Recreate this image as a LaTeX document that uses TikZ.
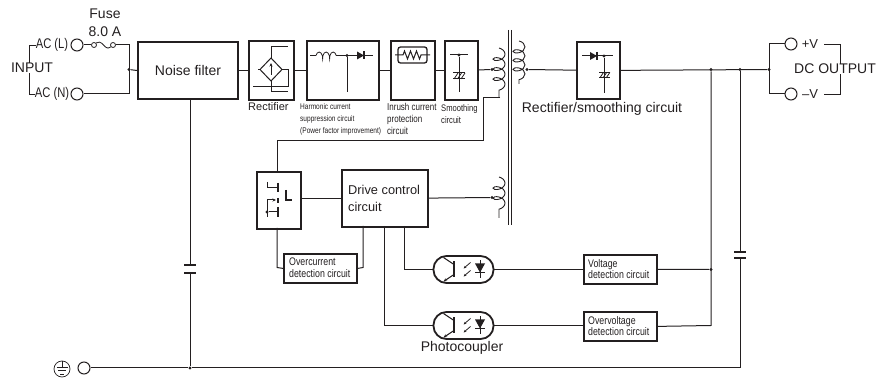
\documentclass[tikz,border=0pt]{standalone}
\usepackage{fontspec}
\setmainfont{Liberation Sans}
\newfontfamily\narrowfont[FakeStretch=0.8]{Liberation Sans}
\usetikzlibrary{arrows.meta, calc, decorations.pathmorphing}
\definecolor{ink}{RGB}{35, 31, 32}
\tikzset{
  wire/.style={draw=ink, line width=1pt},
  thin wire/.style={draw=ink, line width=0.8pt},
  plate/.style={draw=ink, line width=1.7pt},
  blockbox/.style={draw=ink, line width=2pt, inner sep=0pt, anchor=north west},
  smallbox/.style={draw=ink, line width=1.8pt, inner sep=0pt, anchor=north west, minimum width=73pt, minimum height=29pt},
  term/.style={circle, draw=ink, line width=1pt, minimum size=12pt, inner sep=0pt},
  fusend/.style={circle, draw=ink, line width=0.8pt, minimum size=5pt, inner sep=0pt},
  jdot/.style={circle, fill=ink, minimum size=3.4pt, inner sep=0pt},
  lbl/.style={inner sep=0pt, text=ink, font=\fontsize{14}{17}\selectfont},
  narrowlbl/.style={inner sep=0pt, text=ink, anchor=west, align=left, font=\narrowfont\fontsize{11}{11.5}\selectfont},
  tinylbl/.style={inner sep=0pt, text=ink, anchor=west, align=left, font=\narrowfont\fontsize{8.2}{12}\selectfont},
  coilwire/.style={draw=ink, line width=0.9pt, decorate, decoration={coil, aspect=0.6, segment length=#1, amplitude=6pt}},
  diodemark/.pic={
    \fill[ink] (-7,-4) -- (-7,4) -- (0,0) -- cycle;
    \draw[plate] (0,-4) -- (0,4);
  },
  hatchcap/.pic={
    \draw[wire] (-6,-3) -- (6,-3) (-6,3) -- (6,3);
    \draw[thin wire] (-5,3) -- (-1,-3) (-1.5,3) -- (2.5,-3) (2,3) -- (6,-3);
  }
}
\begin{document}
\begin{tikzpicture}[x=1pt, y=-1pt]
  \useasboundingbox (0,0) rectangle (876,379);

  % blocks on the top row
  \node[blockbox, minimum width=100pt, minimum height=57pt] (noise) at (137,41) {};
  \node[lbl] at (noise.center) {Noise filter};
  \node[blockbox, minimum width=45pt, minimum height=59pt] (rectif) at (248,40) {};
  \node[blockbox, minimum width=72pt, minimum height=59pt] (harm) at (306,40) {};
  \node[blockbox, minimum width=44pt, minimum height=59pt] (inrush) at (390,40) {};
  \node[blockbox, minimum width=33pt, minimum height=59pt] (smooth) at (444,40) {};
  \node[blockbox, minimum width=43pt, minimum height=57pt] (rsmooth) at (576,41) {};

  % lower blocks
  \node[blockbox, minimum width=44pt, minimum height=57pt] (switch) at (256,171) {};
  \node[blockbox, minimum width=86pt, minimum height=57pt] (drive) at (341,169) {};
  \node[lbl, anchor=west, align=left, font=\fontsize{12.8}{17}\selectfont] at (348,198.5) {Drive control\\circuit};
  \node[smallbox] (overcur) at (283,253) {};
  \node[narrowlbl] at (289,267.5) {Overcurrent\\detection circuit};
  \node[smallbox] (voltdet) at (583,254) {};
  \node[narrowlbl] at (588,269) {Voltage\\detection circuit};
  \node[smallbox] (overdet) at (583,311) {};
  \node[narrowlbl] at (588,326) {Overvoltage\\detection circuit};

  % photocouplers
  \foreach \nm/\cy in {pcv/269.5, pco/325.5} {
    \node[draw=ink, line width=1.8pt, rounded corners=13pt, minimum width=60pt, minimum height=27pt, inner sep=0pt] (\nm) at (463.5,\cy) {};
    \begin{scope}[shift={(463.5,\cy)}]
      \draw[plate] (-9.5,-8) -- (-9.5,8);
      \draw[wire] (-20,-12) -- (-9.5,-5);
      \draw[wire, -{Stealth[length=3.5pt,width=3pt]}] (-9.5,5) -- (-20,12);
      \draw[thin wire, {Stealth[length=3pt,width=2.5pt]}-] (0,-1) -- (7,-7);
      \draw[thin wire, {Stealth[length=3pt,width=2.5pt]}-] (0,7) -- (7,1);
      \draw[wire] (16.5,-9) -- (16.5,9);
      \fill[ink] (11.5,-6) -- (21.5,-6) -- (16.5,3) -- cycle;
      \draw[plate] (11.5,3) -- (21.5,3);
    \end{scope}
  }
  \node[lbl] at (462,348) {Photocoupler};

  % input side
  \node[term] (acl) at (77,45) {};
  \node[term] (acn) at (77,94) {};
  \node[fusend] (fusea) at (94,45) {};
  \node[fusend] (fuseb) at (113,45) {};
  \node[jdot] (injunc) at (129,69.5) {};
  \coordinate (fusecnr) at (129,45);
  \coordinate (acncnr) at (129,94);
  \draw[wire] (acl) -- (fusea);
  \draw[thin wire] (fusea) .. controls (98,41) and (101,42) .. (103.5,45) .. controls (106,48) and (108,49) .. (fuseb);
  \draw[wire] (fuseb) -- (fusecnr) -- (acncnr) -- (acn);
  \draw[wire] (injunc) -- (noise.west);
  \node[lbl] at (105,14) {Fuse};
  \node[lbl] at (105,32) {8.0 A};
  \node[lbl, font=\narrowfont\fontsize{14}{17}\selectfont] (acltxt) at (52,45) {AC (L)};
  \node[lbl, font=\narrowfont\fontsize{14}{17}\selectfont] (acntxt) at (52,94) {AC (N)};
  \node[lbl] (intxt) at (32,68) {INPUT};
  \coordinate (inbra) at (29,45);
  \coordinate (inbrb) at (29,94);
  \draw[thin wire] (acltxt.west) -- (inbra) -- (inbra |- intxt.north);
  \draw[thin wire] (inbrb |- intxt.south) -- (inbrb) -- (acntxt.west);

  % top row wiring
  \draw[wire] (noise) -- (rectif);
  \draw[wire] (rectif) -- (harm);
  \draw[wire] (harm) -- (inrush);
  \draw[wire] (inrush) -- (smooth);
  \node[jdot] (pridot) at (492,69.5) {};
  \draw[wire] (smooth) -- (pridot);

  % transformer
  \draw[coilwire=10pt] (499,48) -- (499,98);
  \draw[coilwire=9pt] (519,41) -- (519,84);
  \draw[coilwire=10pt] (499,177) -- (499,218);
  \draw[line width=1pt, draw=ink] (508,30) -- (508,225) (511,30) -- (511,225);
  \node[jdot] (secdot) at (527,69.5) {};
  \node[jdot] (auxdot) at (492,197.5) {};

  % rectifier symbol
  \draw[wire] (271,58) -- (282,69.5) -- (271,81) -- (260,69.5) -- cycle;
  \draw[thin wire, -{Stealth[length=3.5pt,width=3pt]}] (271,75) -- (271,63);
  \draw[wire] (258,69.5) -- (260,69.5);
  \draw[wire] (271,58) -- (271,47) -- (288,47);
  \draw[wire] (282,69.5) -- (288,69.5) -- (288,87) -- (253,87);
  \draw[wire] (271,81) -- (271,92) -- (288,92);
  \node[lbl, anchor=west, font=\fontsize{11}{13}\selectfont] at (248,107) {Rectifier};

  % harmonic current symbol
  \draw[wire] (310,55.5) -- (316,55.5);
  \draw[thin wire, decorate, decoration={coil, aspect=0.4, segment length=7pt, amplitude=3.5pt}] (316,55.5) -- (338,55.5);
  \draw[wire] (338,55.5) -- (373,55.5);
  \node[jdot] (harmdot) at (347,55.5) {};
  \draw[wire] (harmdot) -- (347,92);
  \pic at (364,55.5) {diodemark};
  \node[tinylbl] at (300,119) {Harmonic current\\suppression circuit\\(Power factor improvement)};

  % inrush symbol
  \node[draw=ink, line width=1.3pt, rounded corners=2.5pt, minimum width=29pt, minimum height=16pt, inner sep=0pt] (limit) at (412.5,55) {};
  \draw[wire] (395,55) -- (403,55) -- ++(1.5,-4) -- ++(3,8) -- ++(3,-8) -- ++(3,8) -- ++(3,-8) -- ++(3,8) -- ++(1.5,-4) -- (430,55);
  \node[narrowlbl, font=\narrowfont\fontsize{10}{12}\selectfont] at (387,119) {Inrush current\\protection\\circuit};

  % smoothing symbol
  \draw[wire] (450,55) -- (468,55);
  \node[jdot] (smdot) at (459,55) {};
  \draw[wire] (smdot) -- (459,92);
  \pic at (459,76) {hatchcap};
  \node[narrowlbl, font=\narrowfont\fontsize{9.5}{12}\selectfont] at (441,114) {Smoothing\\circuit};

  % aux winding wire up to the switch
  \coordinate (pribot) at (500,98);
  \coordinate (auxcnra) at (483,98);
  \coordinate (auxcnrb) at (483,141);
  \coordinate (auxcnrc) at (277,141);
  \coordinate (switchtop) at (277,171);
  \draw[wire] (pribot) -- (auxcnra) -- (auxcnrb) -- (auxcnrc) -- (switchtop);

  % switch symbol
  \draw[wire] (267,182) -- (267,188) -- (278,188);
  \draw[plate] (278,183) -- (278,192) (278,198) -- (278,203) (278,207) -- (278,217);
  \draw[wire] (267,217) -- (267,200);
  \draw[wire, -{Stealth[length=3.5pt,width=3pt]}] (267,200) -- (276,200);
  \node[jdot] (swdot) at (267,212) {};
  \draw[wire] (swdot) -- (278,212);
  \draw[plate, line width=1.2pt] (286,190) -- (286,200) -- (292,200);

  % drive control wiring
  \draw[wire] (switch.east |- drive) -- (drive);
  \draw[wire] (drive) -- (auxdot);
  \coordinate (swbot) at (277,228);
  \coordinate (occnr) at (277,267.5);
  \coordinate (drvocb) at (363,226);
  \coordinate (drvocc) at (363,267.5);
  \draw[wire] (swbot) -- (occnr) -- (overcur.west);
  \draw[wire] (overcur.east) -- (drvocc) -- (drvocb);
  \coordinate (drvpoa) at (404,226);
  \coordinate (drvpob) at (404,269.5);
  \coordinate (drvpoc) at (384,226);
  \coordinate (drvpod) at (384,325.5);
  \draw[wire] (drvpoa) -- (drvpob) -- (pcv.west);
  \draw[wire] (drvpoc) -- (drvpod) -- (pco.west);
  \draw[wire] (pcv.east) -- (pcv.east -| voltdet.west);
  \draw[wire] (pco.east) -- (pco.east -| overdet.west);

  % secondary side
  \draw[wire] (secdot) -- (rsmooth);
  \draw[wire] (582,56) -- (613,56);
  \pic at (597,56) {diodemark};
  \node[jdot] (rsdot) at (604,56) {};
  \draw[wire] (rsdot) -- (604,93);
  \pic[scale=0.9] at (604.5,75) {hatchcap};
  \node[lbl] at (602,109) {Rectifier/smoothing circuit};
  \node[jdot] (outa) at (711,69.5) {};
  \node[jdot] (outb) at (740,69.5) {};
  \node[jdot] (outc) at (769,69.5) {};
  \draw[wire] (rsmooth) -- (outc);

  % output terminals
  \node[term] (vplus) at (791,44) {};
  \node[term] (vminus) at (791,94) {};
  \coordinate (outcup) at (769,44);
  \coordinate (outcdn) at (769,94);
  \draw[wire] (vplus) -- (outcup) -- (outcdn) -- (vminus);
  \node[lbl, font=\fontsize{13}{15}\selectfont] (vptxt) at (810,44) {+V};
  \node[lbl, font=\fontsize{13}{15}\selectfont] (vmtxt) at (810,94) {--V};
  \node[lbl] (dctxt) at (835,69) {DC OUTPUT};
  \coordinate (dcbra) at (840,44);
  \coordinate (dcbrb) at (840,94);
  \draw[thin wire] (824,44) -- (dcbra) -- (dcbra |- dctxt.north);
  \draw[thin wire] (dcbrb |- dctxt.south) -- (dcbrb) -- (824,94);

  % detection wiring
  \node[jdot] (vdot) at (711,269.5) {};
  \coordinate (overcnr) at (711,325.5);
  \draw[wire] (outa) -- (overcnr) -- (overdet.east);
  \draw[wire] (voltdet.east) -- (vdot);

  % earth
  \node[term] (earth) at (84,368) {};
  \node[circle, draw=ink, line width=0.7pt, minimum size=16pt, inner sep=0pt] (esym) at (62,369) {};
  \draw[thin wire] (62,361) -- (62,367) (56.5,367) -- (67.5,367);
  \draw[thin wire] (58,370.5) -- (66,370.5) (60,374) -- (64,374);
  \node[jdot] (gnddot) at (190,368) {};
  \coordinate (groundend) at (740,368);
  \draw[wire] (earth) -- (gnddot) -- (groundend);

  % y capacitors
  \coordinate (capa) at (190,265);
  \coordinate (capb) at (190,273);
  \draw[wire] (noise.south -| capa) -- (capa);
  \draw[wire] (capb) -- (gnddot);
  \draw[plate] (184,265) -- (196,265) (184,273) -- (196,273);
  \coordinate (capc) at (740,252);
  \coordinate (capd) at (740,258);
  \draw[wire] (outb) -- (capc);
  \draw[wire] (capd) -- (groundend);
  \draw[plate] (734,252) -- (746,252) (734,258) -- (746,258);
\end{tikzpicture}
\end{document}
